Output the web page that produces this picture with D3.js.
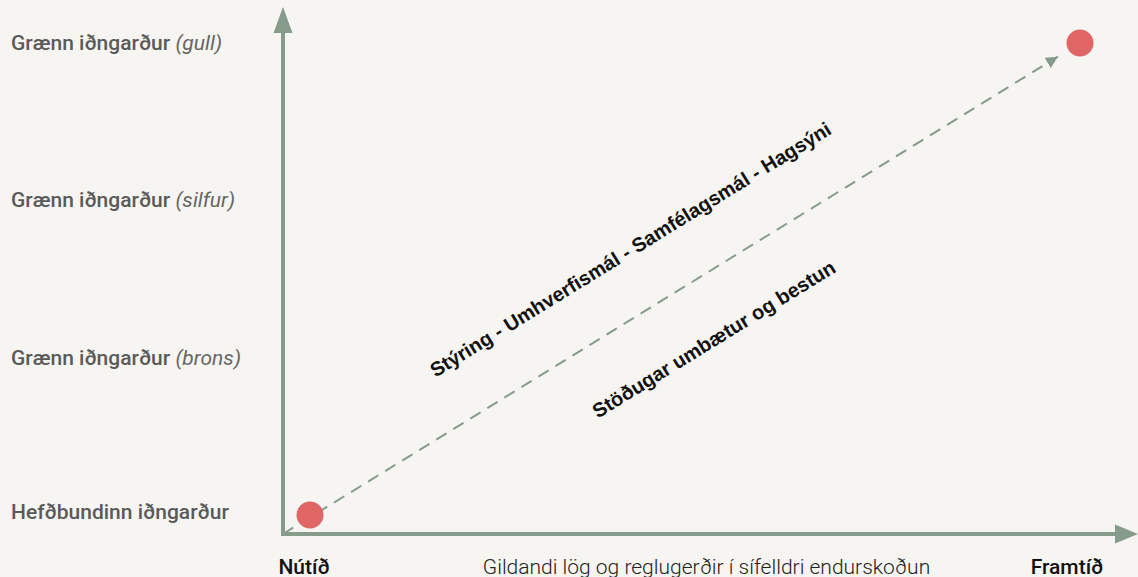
<!DOCTYPE html>
<html>
<head>
<meta charset="utf-8">
<script src="https://cdn.jsdelivr.net/npm/d3@7"></script>
<style>
  html, body { margin: 0; padding: 0; background: #f6f5f1; }
  svg { display: block; }
</style>
</head>
<body>
<div id="chart"></div>
<script>
/* Green industrial park maturity path: from present to future */
var levels = [
  "Hefðbundinn iðngarður",
  "Grænn iðngarður (brons)",
  "Grænn iðngarður (silfur)",
  "Grænn iðngarður (gull)"
];
var timeline = ["Nútíð", "Framtíð"];
var points = [
  { time: "Nútíð", level: "Hefðbundinn iðngarður" },
  { time: "Framtíð", level: "Grænn iðngarður (gull)" }
];
var xAxisTitle = "Gildandi lög og reglugerðir í sífelldri endurskoðun";
var pathLabels = [
  { text: "Stýring - Umhverfismál - Samfélagsmál - Hagsýni", side: 1 },
  { text: "Stöðugar umbætur og bestun", side: -1 }
];

(function () {
  var width = 1138, height = 577;
  var axisColor = "#879b8b";
  var dotColor = "#e06666";
  var origin = { x: 283, y: 534 };

  var svg = d3.select("#chart").append("svg")
    .attr("width", width)
    .attr("height", height);

  svg.append("rect").attr("width", width).attr("height", height).attr("fill", "#f6f5f1");

  var x = d3.scalePoint().domain(timeline).range([310, 1080]);
  var y = d3.scalePoint().domain(levels).range([515, 43]);

  var defs = svg.append("defs");
  defs.append("marker")
    .attr("id", "dash-arrow")
    .attr("viewBox", "0 0 10 10")
    .attr("refX", 10).attr("refY", 5)
    .attr("markerWidth", 6).attr("markerHeight", 6)
    .attr("markerUnits", "strokeWidth")
    .attr("orient", "auto")
    .append("path").attr("d", "M0,0L10,5L0,10Z").attr("fill", axisColor);

  // ---- axes (arrows) ----
  var axes = svg.append("g");
  axes.append("line")
    .attr("x1", origin.x).attr("y1", origin.y + 2)
    .attr("x2", origin.x).attr("y2", 30)
    .attr("stroke", axisColor).attr("stroke-width", 4);
  axes.append("path")
    .attr("d", "M" + origin.x + ",7L" + (origin.x + 9.5) + ",33L" + (origin.x - 9.5) + ",33Z")
    .attr("fill", axisColor);
  axes.append("line")
    .attr("x1", origin.x - 2).attr("y1", origin.y)
    .attr("x2", 1118).attr("y2", origin.y)
    .attr("stroke", axisColor).attr("stroke-width", 4);
  axes.append("path")
    .attr("d", "M" + width + "," + origin.y + "L1115," + (origin.y - 9.5) + "L1115," + (origin.y + 9.5) + "Z")
    .attr("fill", axisColor);

  // ---- dashed path toward the target ----
  var end = points[points.length - 1];
  var tx = x(end.time), ty = y(end.level);
  var dx = tx - origin.x, dy = ty - origin.y;
  var len = Math.sqrt(dx * dx + dy * dy);
  var ux = dx / len, uy = dy / len;
  var lineLen = len - 26;
  svg.append("line")
    .attr("x1", origin.x).attr("y1", origin.y)
    .attr("x2", origin.x + ux * lineLen).attr("y2", origin.y + uy * lineLen)
    .attr("stroke", axisColor)
    .attr("stroke-width", 2)
    .attr("stroke-dasharray", "12,8")
    .attr("marker-end", "url(#dash-arrow)");

  // ---- labels along the path ----
  var angle = Math.atan2(dy, dx) * 180 / Math.PI;
  var mid = lineLen * 0.5;
  svg.append("g").selectAll("text")
    .data(pathLabels)
    .join("text")
    .attr("transform", function (d) {
      var along = d.side > 0 ? mid - 10 : mid + 14;
      var off = 60 * d.side;
      var cx = origin.x + ux * along + uy * off;
      var cy = origin.y + uy * along - ux * off;
      return "translate(" + cx + "," + cy + ") rotate(" + angle + ")";
    })
    .attr("text-anchor", "middle")
    .attr("dominant-baseline", "central")
    .attr("font-family", "'Liberation Sans', Arial, sans-serif")
    .attr("font-weight", "bold")
    .attr("font-size", "20px")
    .attr("fill", "#111")
    .text(function (d) { return d.text; });

  // ---- points ----
  svg.append("g").selectAll("circle")
    .data(points)
    .join("circle")
    .attr("cx", function (d) { return x(d.time); })
    .attr("cy", function (d) { return y(d.level); })
    .attr("r", 13.5)
    .attr("fill", dotColor);

  // ---- level labels (left) ----
  var lvl = svg.append("g").selectAll("text")
    .data(levels)
    .join("text")
    .attr("x", 11)
    .attr("y", function (d, i) { return y(d) + (i === 0 ? -3 : 0); })
    .attr("dominant-baseline", "central")
    .attr("font-family", "Roboto, sans-serif")
    .attr("font-size", "21px")
    .attr("fill", "#5a5a5a");
  lvl.each(function (d) {
    var m = d.match(/^(.*?)\s*(\(.*\))?$/);
    var t = d3.select(this);
    t.append("tspan").attr("font-weight", 500).text(m[1]);
    if (m[2]) {
      t.append("tspan").attr("font-style", "italic").attr("font-weight", 400)
        .attr("fill", "#666").text(" " + m[2]);
    }
  });

  // ---- time labels (bottom) ----
  svg.append("g").selectAll("text")
    .data(timeline)
    .join("text")
    .attr("x", function (d, i) { return x(d) + (i === 0 ? -6 : -13); })
    .attr("y", 574)
    .attr("text-anchor", "middle")
    .attr("font-family", "Roboto, sans-serif")
    .attr("font-weight", 500)
    .attr("font-size", "21px")
    .attr("fill", "#111")
    .text(function (d) { return d; });

  svg.append("text")
    .attr("x", (origin.x + width) / 2 - 4)
    .attr("y", 574)
    .attr("text-anchor", "middle")
    .attr("font-family", "Roboto, sans-serif")
    .attr("font-weight", 300)
    .attr("font-size", "21px")
    .attr("fill", "#222")
    .text(xAxisTitle);
})();
</script>
</body>
</html>
